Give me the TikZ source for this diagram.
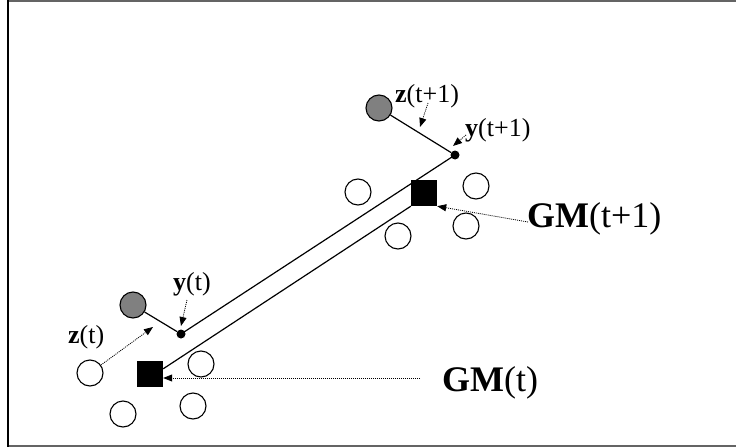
\documentclass[tikz,border=0pt]{standalone}
\usepackage{fontspec}
\setmainfont{Liberation Serif}
\usetikzlibrary{arrows.meta,calc}
\definecolor{ballgrey}{RGB}{128,128,128}
\definecolor{framegrey}{RGB}{100,100,100}
\begin{document}
\begin{tikzpicture}[x=1pt,y=-1pt,
  ball/.style={circle,draw=black,line width=1.1pt,minimum size=26pt,inner sep=0pt},
  greyball/.style={ball,fill=ballgrey},
  gmbox/.style={rectangle,fill=black,minimum size=26pt,inner sep=0pt},
  dotn/.style={circle,fill=black,minimum size=9pt,inner sep=0pt},
  lab/.style={font=\fontsize{26}{30}\selectfont,inner sep=0pt,anchor=west},
  biglab/.style={font=\fontsize{36}{40}\selectfont,inner sep=0pt,anchor=west},
  link/.style={line width=1.2pt},
  pointer/.style={line width=0.8pt,dash pattern=on 1pt off 1pt,
    -{Triangle[length=9pt,width=7pt]}},
]
\useasboundingbox (0,0) rectangle (736,447);

% frame
\draw[framegrey,line width=2pt] (8,1) -- (736,1);
\draw[framegrey,line width=2pt] (8,446) -- (736,446);
\draw[black,line width=1.5pt] (8,0) -- (8,447);

% time t+1 group
\node[greyball] (z1) at (379,108) {};
\node[dotn] (y1) at (455,155) {};
\node[gmbox] (gm1) at (424,193) {};
\node[ball] (c1a) at (358,192) {};
\node[ball] (c1b) at (476,186) {};
\node[ball] (c1c) at (398,236) {};
\node[ball] (c1d) at (466,226) {};

% time t group
\node[greyball] (z0) at (133,305) {};
\node[dotn] (y0) at (181,334) {};
\node[gmbox] (gm0) at (150,374) {};
\node[ball] (c0a) at (90,373) {};
\node[ball] (c0b) at (201,364) {};
\node[ball] (c0c) at (123,414) {};
\node[ball] (c0d) at (193,406) {};

% labels
\node[lab] (zl1) at (395,96) {\textbf{z}(t+1)};
\node[lab] (yl1) at (465,130) {\textbf{y}(t+1)};
\node[lab] (yl0) at (173,284) {\textbf{y}(t)};
\node[lab] (zl0) at (68,337) {\textbf{z}(t)};
\node[biglab] (gml1) at (527,219) {\textbf{GM}(t+1)};
\node[biglab] (gml0) at (442,383) {\textbf{GM}(t)};

% solid links
\draw[link] (z1) -- (y1);
\draw[link] (z0) -- (y0);
\draw[link] (y0.center) -- (y1.center);
\draw[link] (gm1.south west) -- ($(gm0.north east)+(0,8)$);

% pointer end points
\coordinate (pz1s) at (428,103);
\coordinate (pz1e) at (420,127);
\coordinate (py1s) at (466,135);
\coordinate (py1e) at (453,146);
\coordinate (py0s) at (187,300);
\coordinate (py0e) at (181,326);
\coordinate (pz0e) at (153,327);
\coordinate (pgm1s) at (528,222);
\coordinate (pgm0s) at (420,378);

% dotted pointers
\draw[pointer] (pz1s) -- (pz1e);
\draw[pointer] (py1s) -- (py1e);
\draw[pointer] (py0s) -- (py0e);
\draw[pointer] (c0a) -- (pz0e);
\draw[pointer] (pgm1s) -- (gm1.south east);
\draw[pointer] (pgm0s) -- ($(gm0.east)+(0,4)$);
\end{tikzpicture}
\end{document}
